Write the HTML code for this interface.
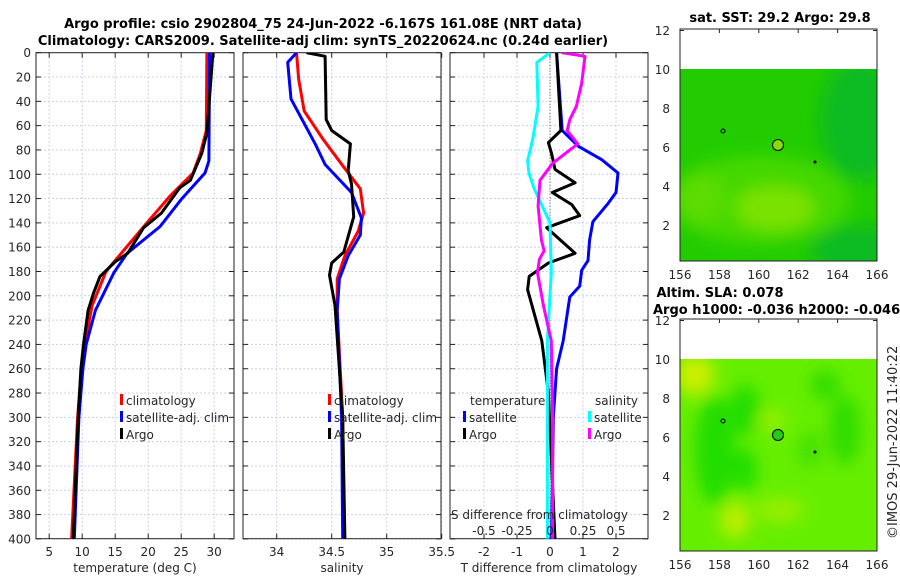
<!DOCTYPE html>
<html><head><meta charset="utf-8">
<style>
html,body{margin:0;padding:0;background:#fff;width:900px;height:580px;overflow:hidden}
svg text{font-family:"DejaVu Sans","Liberation Sans",sans-serif;fill:#262626}
.t{font-weight:bold;font-size:13px;fill:#000}
.tk{font-size:12px}
</style></head>
<body>
<svg id="fig" width="900" height="580" viewBox="0 0 900 580" xmlns="http://www.w3.org/2000/svg">
<defs>
<filter id="blur1" x="-50%" y="-50%" width="200%" height="200%"><feGaussianBlur stdDeviation="8"/></filter>
<clipPath id="cm1"><rect x="680" y="69" width="197" height="192"/></clipPath>
<clipPath id="cm2"><rect x="680" y="359" width="197" height="192"/></clipPath>
<clipPath id="cp1"><rect x="36" y="52.7" width="198" height="486"/></clipPath>
<clipPath id="cp2"><rect x="243" y="52.7" width="198" height="486"/></clipPath>
<clipPath id="cp3"><rect x="450" y="52.7" width="198" height="486"/></clipPath>
</defs>
<text class="t" x="323" y="28" text-anchor="middle">Argo profile: csio 2902804_75 24-Jun-2022 -6.167S 161.08E (NRT data)</text>
<text class="t" x="323" y="45" text-anchor="middle">Climatology: CARS2009. Satellite-adj clim: synTS_20220624.nc (0.24d earlier)</text>
<g id="g"></g>
<g>
<text class="t" x="780" y="22" text-anchor="middle" font-size="12">sat. SST: 29.2 Argo: 29.8</text>
<g clip-path="url(#cm1)">
<rect x="680" y="69" width="197" height="192" fill="#22cc00"/>
<g filter="url(#blur1)">
<ellipse cx="760" cy="200" rx="90" ry="45" fill="#44d800"/>
<ellipse cx="775" cy="208" rx="40" ry="22" fill="#7ae200"/>
<ellipse cx="700" cy="198" rx="25" ry="25" fill="#5cdc00"/>
<ellipse cx="860" cy="120" rx="40" ry="60" fill="#11bb22"/>
<ellipse cx="860" cy="250" rx="50" ry="25" fill="#11bb22"/>
</g>
</g>
<rect x="680" y="29" width="197" height="232" fill="none" stroke="#222" stroke-width="1"/>
<circle cx="778" cy="145" r="5.5" fill="#88dd00" stroke="#000"/>
<ellipse cx="723" cy="131" rx="2" ry="2" fill="none" stroke="#000"/>
<circle cx="815" cy="162" r="1.5" fill="#000"/>
</g>
<g>
<text class="t" x="720" y="297" text-anchor="middle" font-size="12">Altim. SLA: 0.078</text>
<text class="t" x="653" y="314" font-size="12">Argo h1000: -0.036 h2000: -0.046</text>
<g clip-path="url(#cm2)">
<rect x="680" y="359" width="197" height="192" fill="#66ee00"/>
<g filter="url(#blur1)">
<ellipse cx="695" cy="375" rx="20" ry="20" fill="#ccee00"/>
<ellipse cx="715" cy="450" rx="20" ry="55" fill="#22dd00"/>
<ellipse cx="745" cy="470" rx="12" ry="22" fill="#22dd00"/>
<ellipse cx="745" cy="410" rx="15" ry="25" fill="#22dd00"/>
<ellipse cx="845" cy="430" rx="16" ry="35" fill="#33dd00"/>
<ellipse cx="825" cy="385" rx="15" ry="15" fill="#33dd00"/>
<ellipse cx="810" cy="450" rx="12" ry="18" fill="#44e000"/>
<ellipse cx="780" cy="510" rx="25" ry="12" fill="#99ee00"/>
<ellipse cx="735" cy="520" rx="15" ry="18" fill="#bbee00"/>
<ellipse cx="772" cy="420" rx="15" ry="10" fill="#99ee00"/>
</g>
</g>
<rect x="680" y="319" width="197" height="232" fill="none" stroke="#222" stroke-width="1"/>
<circle cx="778" cy="435" r="5.5" fill="#22cc11" stroke="#000"/>
<ellipse cx="723" cy="421" rx="2" ry="2" fill="none" stroke="#000"/>
<circle cx="815" cy="452" r="1.5" fill="#000"/>
</g>
<text transform="translate(897,539) rotate(-90)" font-size="13">©IMOS 29-Jun-2022 11:40:22</text>
</svg>
<script>
const depthTicks=[0,20,40,60,80,100,120,140,160,180,200,220,240,260,280,300,320,340,360,380,400];
const tempTicks=[5,10,15,20,25,30];
const salTicks=[34,34.5,35,35.5];
const tdiffTicks=[-2,-1,0,1,2];
const sdiffTicks=[-0.5,-0.25,0,0.25,0.5];
const latTicks=[2,4,6,8,10,12];
const lonTicks=[156,158,160,162,164,166];
const tArgoD=[0,66,83,105,111,132,144,165,172,184,198,212,240,260,300,400];
const tArgoV=[29.8,28.9,28.1,26.4,24.8,22.0,19.3,16.9,15.0,12.7,11.7,10.9,10.2,9.8,9.4,8.65];
const tClimD=[0,64,83,99,118,140,167,180,208,240,260,300,400];
const tClimV=[28.9,28.8,27.9,26.8,23.3,19.8,15.6,13.6,11.5,10.4,9.9,9.3,8.4];
const tSatD=[0,89,99,120,143,165,181,212,240,260,300,400];
const tSatV=[29.3,29.2,28.6,25.1,21.8,16.8,14.8,12.0,10.6,10.1,9.5,8.8];
const sArgoD=[0,3,55,64,75,97,108,135,164,173,183,208,300,400];
const sArgoV=[34.27,34.44,34.45,34.50,34.67,34.65,34.68,34.70,34.61,34.50,34.48,34.53,34.6,34.62];
const sClimD=[0,22,48,71,93,112,132,147,167,186,212,300,400];
const sClimV=[34.18,34.2,34.25,34.42,34.6,34.76,34.79,34.74,34.62,34.55,34.55,34.6,34.61];
const sSatD=[0,8,38,75,92,115,136,150,167,186,212,300,400];
const sSatV=[34.18,34.1,34.13,34.35,34.44,34.68,34.77,34.76,34.65,34.57,34.55,34.59,34.6];
const dTArgoD=[0,64,74,83,96,107,115,125,134,144,165,173,184,195,237,280,400];
const dTArgoV=[0.2,0.33,-0.05,0.05,0.15,0.76,0.07,0.66,0.9,-0.1,0.76,-0.05,-0.63,-0.68,-0.25,-0.05,0.15];
const dTSatD=[0,64,77,88,99,115,124,139,154,171,179,192,201,210,237,260,300,400];
const dTSatV=[0.2,0.37,0.86,1.57,2.06,2.0,1.76,1.3,1.2,1.15,0.96,0.9,0.6,0.55,0.4,0.2,0.1,0.05];
const dSArgoD=[0,3,25,44,55,64,75,91,105,126,154,163,170,181,208,237,300,400];
const dSArgoV=[0.088,0.265,0.24,0.2,0.15,0.13,0.21,0.02,-0.076,-0.09,-0.065,-0.045,-0.08,-0.095,-0.05,0.01,0.02,0.02];
const dSSatD=[0,8,44,71,89,99,112,140,181,237,300,400];
const dSSatV=[0,-0.1,-0.09,-0.13,-0.17,-0.16,-0.12,0.0,0.01,-0.02,-0.02,-0.02];
const yD=d=>52.7+d*1.2155;
const xT=t=>36+(t-3)*6.6;
const xS=s=>276.7+(s-34)*110;
const xDT=v=>550+v*33;
const xDS=v=>550+v*132;
const yL1=l=>264.5-l*19.5;
const yL2=l=>554.5-l*19.5;
const xLon=l=>680+(l-156)*19.7;
const NS="http://www.w3.org/2000/svg";
const G=document.getElementById('g');
function el(tag,attrs,parent){const e=document.createElementNS(NS,tag);for(const k in attrs)e.setAttribute(k,attrs[k]);(parent||G).appendChild(e);return e;}
function panel(x0,name,xticks,xf,label){
  const g=el('g',{});
  
  
  el('rect',{x:x0,y:52.7,width:198,height:486,fill:'#fff'},g);
  for(const d of depthTicks){const y=yD(d);
    el('line',{x1:x0,x2:x0+198,y1:y,y2:y,stroke:'#c8d0ec','stroke-dasharray':'2,2','stroke-width':1},g);
    el('line',{x1:x0,x2:x0+5,y1:y,y2:y,stroke:'#222'},g);
    el('line',{x1:x0+193,x2:x0+198,y1:y,y2:y,stroke:'#222'},g);}
  for(const t of xticks){const x=xf(t);
    el('line',{x1:x,x2:x,y1:52.7,y2:538.7,stroke:'#c8d0ec','stroke-dasharray':'2,2','stroke-width':1},g);
    el('line',{x1:x,x2:x,y1:52.7,y2:57.7,stroke:'#222'},g);
    el('line',{x1:x,x2:x,y1:533.7,y2:538.7,stroke:'#222'},g);
    const tx=el('text',{x:x,y:556,'text-anchor':'middle',class:'tk'},g);tx.textContent=t;
    
    }
  el('rect',{x:x0,y:52.7,width:198,height:486,fill:'none',stroke:'#222','stroke-width':1},g);
  const lb=el('text',{x:x0+99,y:572,'text-anchor':'middle',class:'tk','font-size':'13'},g);lb.textContent=label;
  
  
  return g;
}
function line(D,V,xf,color,name,clip){
  const pts=D.map((d,i)=>xf(V[i]).toFixed(1)+','+yD(d).toFixed(1)).join(' ');
  const p=el('polyline',{points:pts,fill:'none',stroke:color,'stroke-width':3,'stroke-linejoin':'round','clip-path':'url(#'+clip+')'});
  
  
}
function txt(x,y,s,name,extra){const t=el('text',Object.assign({x:x,y:y,class:'tk','font-size':'13'},extra||{}));t.textContent=s;
  
  return t;}
function legend(x,y,items){items.forEach((it,i)=>{
  const r=el('rect',{x:x,y:y+i*17-11,width:3,height:11,fill:it[1]});
  
  
  txt(x+6,y+i*17,it[0],'legend-entry');});}
for(const d of depthTicks){txt(31,yD(d)+4.5,d,'y-tick-label',{'text-anchor':'end','font-size':'12'});}
panel(36,'temperature-panel',tempTicks,xT,'temperature (deg C)');
panel(243,'salinity-panel',salTicks,xS,'salinity');
panel(450,'difference-panel',tdiffTicks,xDT,'T difference from climatology');
const z=el('line',{x1:550,x2:550,y1:52.7,y2:538.7,stroke:'#555','stroke-dasharray':'1,2'});


line(tClimD,tClimV,xT,'#ff0000','temp-climatology-line','cp1');
line(tSatD,tSatV,xT,'#0000ff','temp-satellite-line','cp1');
line(tArgoD,tArgoV,xT,'#000000','temp-argo-line','cp1');
line(sClimD,sClimV,xS,'#ff0000','sal-climatology-line','cp2');
line(sSatD,sSatV,xS,'#0000ff','sal-satellite-line','cp2');
line(sArgoD,sArgoV,xS,'#000000','sal-argo-line','cp2');
line(dTSatD,dTSatV,xDT,'#0000ff','tdiff-satellite-line','cp3');
line(dTArgoD,dTArgoV,xDT,'#000000','tdiff-argo-line','cp3');
line(dSSatD,dSSatV,xDS,'#00ffff','sdiff-satellite-line','cp3');
line(dSArgoD,dSArgoV,xDS,'#ff00ff','sdiff-argo-line','cp3');
legend(120,405,[['climatology','#ff0000'],['satellite-adj. clim','#0000ff'],['Argo','#000000']]);
legend(328,405,[['climatology','#ff0000'],['satellite-adj. clim','#0000ff'],['Argo','#000000']]);
txt(470,405,'temperature','legend-title-temperature');
legend(463,422,[['satellite','#0000ff'],['Argo','#000000']]);
txt(595,405,'salinity','legend-title-salinity');
legend(588,422,[['satellite','#00ffff'],['Argo','#ff00ff']]);
txt(451,519,'S difference from climatology','s-axis-title');
for(const s of sdiffTicks){txt(xDS(s),535,s,'s-tick-label',{'text-anchor':'middle','font-size':'12'});}
function mapAxes(yf,top,bottom){
  for(const l of latTicks){const y=yf(l);
    txt(670,y+4.5,l,'lat-tick-label',{'text-anchor':'end','font-size':'12'});
    el('line',{x1:680,x2:684,y1:y,y2:y,stroke:'#222'});el('line',{x1:873,x2:877,y1:y,y2:y,stroke:'#222'});}
  for(const l of lonTicks){const x=xLon(l);
    txt(x,bottom+18,l,'lon-tick-label',{'text-anchor':'middle','font-size':'12'});
    el('line',{x1:x,x2:x,y1:bottom-4,y2:bottom,stroke:'#222'});el('line',{x1:x,x2:x,y1:top,y2:top+4,stroke:'#222'});}
}
mapAxes(yL1,29,261);
mapAxes(yL2,319,551);
</script>
</body></html>
